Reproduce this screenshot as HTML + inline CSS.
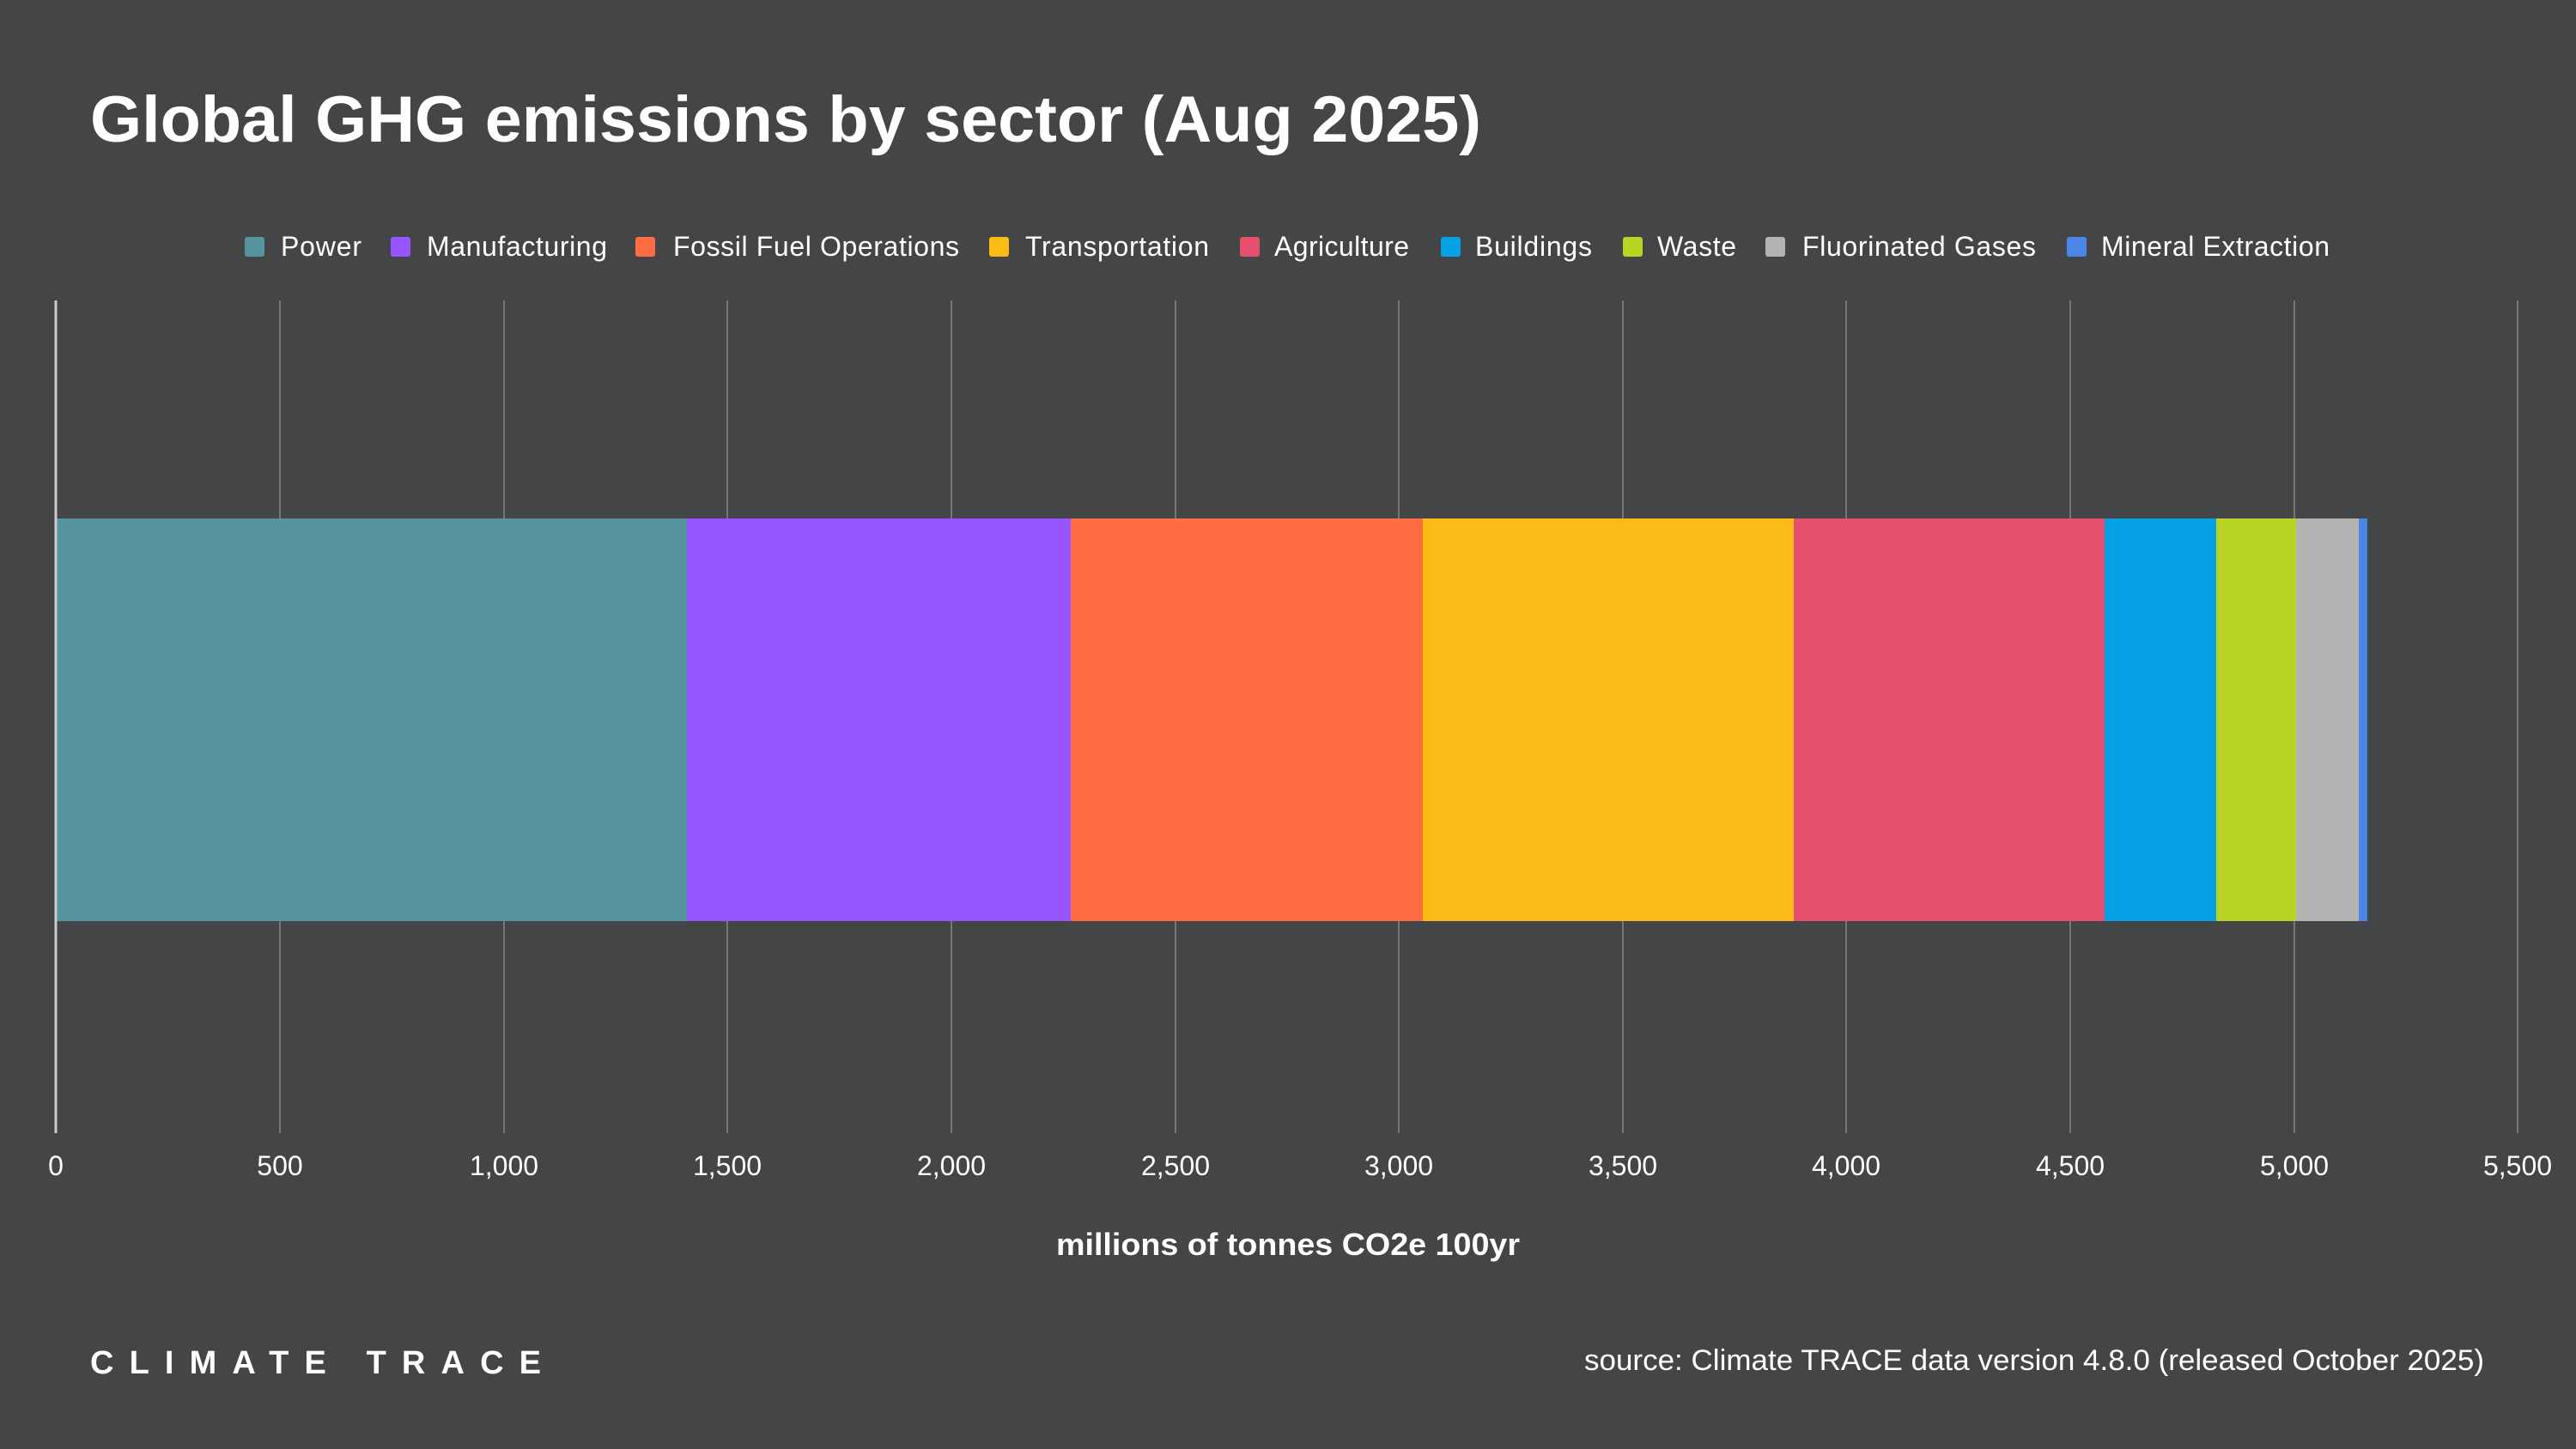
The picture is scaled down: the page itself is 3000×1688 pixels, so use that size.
<!DOCTYPE html>
<html><head><meta charset="utf-8"><style>
html,body{margin:0;padding:0;background:#444547;}
svg{display:block}
text{font-family:"Liberation Sans",Arial,sans-serif;fill:#fff}
</style></head><body>
<svg width="3000" height="1688" viewBox="0 0 3000 1688" xmlns="http://www.w3.org/2000/svg">
<rect width="3000" height="1688" fill="#444547"/>
<text x="105" y="165" font-size="76" font-weight="bold" textLength="1620" lengthAdjust="spacingAndGlyphs">Global GHG emissions by sector (Aug 2025)</text>
<g font-size="32" lengthAdjust="spacingAndGlyphs">
<rect x="285" y="276" width="23" height="23" rx="3" fill="#56959e"/><text x="327" y="298" textLength="94">Power</text>
<rect x="455" y="276" width="23" height="23" rx="3" fill="#9655ff"/><text x="497" y="298" textLength="210">Manufacturing</text>
<rect x="740" y="276" width="23" height="23" rx="3" fill="#ff6d42"/><text x="784" y="298" textLength="333">Fossil Fuel Operations</text>
<rect x="1152" y="276" width="23" height="23" rx="3" fill="#fbba16"/><text x="1194" y="298" textLength="214">Transportation</text>
<rect x="1444" y="276" width="23" height="23" rx="3" fill="#e5516c"/><text x="1484" y="298" textLength="157">Agriculture</text>
<rect x="1678" y="276" width="23" height="23" rx="3" fill="#04a2e4"/><text x="1718" y="298" textLength="136">Buildings</text>
<rect x="1890" y="276" width="23" height="23" rx="3" fill="#b9d422"/><text x="1930" y="298" textLength="92">Waste</text>
<rect x="2056" y="276" width="23" height="23" rx="3" fill="#b3b3b3"/><text x="2099" y="298" textLength="272">Fluorinated Gases</text>
<rect x="2407" y="276" width="23" height="23" rx="3" fill="#4a86e8"/><text x="2447" y="298" textLength="266">Mineral Extraction</text>
</g>
<g stroke="#777" stroke-width="2">
<line x1="326" y1="350" x2="326" y2="1320"/><line x1="587" y1="350" x2="587" y2="1320"/>
<line x1="847" y1="350" x2="847" y2="1320"/><line x1="1108" y1="350" x2="1108" y2="1320"/>
<line x1="1369" y1="350" x2="1369" y2="1320"/><line x1="1629" y1="350" x2="1629" y2="1320"/>
<line x1="1890" y1="350" x2="1890" y2="1320"/><line x1="2150" y1="350" x2="2150" y2="1320"/>
<line x1="2411" y1="350" x2="2411" y2="1320"/><line x1="2672" y1="350" x2="2672" y2="1320"/>
<line x1="2932" y1="350" x2="2932" y2="1320"/>
</g>
<rect x="65" y="604" width="735" height="469" fill="#56959e"/>
<rect x="800" y="604" width="447" height="469" fill="#9655ff"/>
<rect x="1247" y="604" width="410" height="469" fill="#ff6d42"/>
<rect x="1657" y="604" width="432" height="469" fill="#fbba16"/>
<rect x="2089" y="604" width="362" height="469" fill="#e5516c"/>
<rect x="2451" y="604" width="130" height="469" fill="#04a2e4"/>
<rect x="2581" y="604" width="93" height="469" fill="#b9d422"/>
<rect x="2674" y="604" width="73" height="469" fill="#b3b3b3"/>
<rect x="2747" y="604" width="10" height="469" fill="#4a86e8"/>
<line x1="65" y1="350" x2="65" y2="1320" stroke="#ccc" stroke-width="3"/>
<g font-size="32" text-anchor="middle">
<text x="65" y="1369">0</text><text x="326" y="1369">500</text><text x="587" y="1369">1,000</text>
<text x="847" y="1369">1,500</text><text x="1108" y="1369">2,000</text><text x="1369" y="1369">2,500</text>
<text x="1629" y="1369">3,000</text><text x="1890" y="1369">3,500</text><text x="2150" y="1369">4,000</text>
<text x="2411" y="1369">4,500</text><text x="2672" y="1369">5,000</text><text x="2932" y="1369">5,500</text>
</g>
<text x="1500" y="1462" font-size="36" font-weight="bold" text-anchor="middle" textLength="540" lengthAdjust="spacingAndGlyphs">millions of tonnes CO2e 100yr</text>
<text x="105" y="1600" font-size="38" font-weight="bold" textLength="545" lengthAdjust="spacing" style="letter-spacing:20px">CLIMATE TRACE</text>
<text x="2893" y="1596" font-size="34" text-anchor="end" textLength="1048" lengthAdjust="spacingAndGlyphs">source: Climate TRACE data version 4.8.0 (released October 2025)</text>
</svg>
</body></html>
